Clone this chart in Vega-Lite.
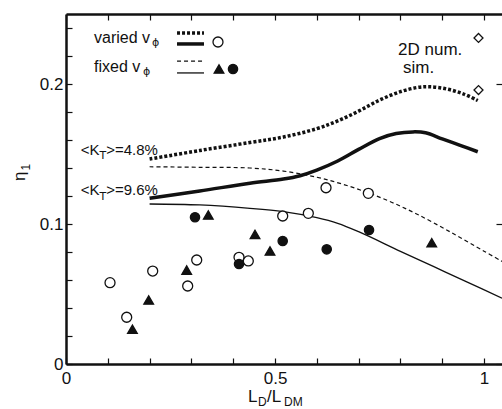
{
  "$schema": "https://vega.github.io/schema/vega-lite/v6.json",
  "width": 436,
  "height": 350,
  "autosize": {"type": "none"},
  "padding": {"left": 66, "top": 14, "right": 0, "bottom": 45},
  "background": "white",
  "config": {"view": {"stroke": null}, "font": "Liberation Sans"},
  "datasets": {
    "curves": [
      {"curve": "v48", "group": "varied 4.8%", "x": 0.2, "y": 0.1464},
      {"curve": "v48", "group": "varied 4.8%", "x": 0.32, "y": 0.1525},
      {"curve": "v48", "group": "varied 4.8%", "x": 0.44, "y": 0.1582},
      {"curve": "v48", "group": "varied 4.8%", "x": 0.52, "y": 0.1621},
      {"curve": "v48", "group": "varied 4.8%", "x": 0.6, "y": 0.1681},
      {"curve": "v48", "group": "varied 4.8%", "x": 0.65, "y": 0.1736},
      {"curve": "v48", "group": "varied 4.8%", "x": 0.7, "y": 0.1806},
      {"curve": "v48", "group": "varied 4.8%", "x": 0.75, "y": 0.1885},
      {"curve": "v48", "group": "varied 4.8%", "x": 0.8, "y": 0.1945},
      {"curve": "v48", "group": "varied 4.8%", "x": 0.84, "y": 0.1975},
      {"curve": "v48", "group": "varied 4.8%", "x": 0.87, "y": 0.198},
      {"curve": "v48", "group": "varied 4.8%", "x": 0.91, "y": 0.1965},
      {"curve": "v48", "group": "varied 4.8%", "x": 0.95, "y": 0.193},
      {"curve": "v48", "group": "varied 4.8%", "x": 0.985, "y": 0.1882},
      {"curve": "v96", "group": "varied 9.6%", "x": 0.2, "y": 0.1184},
      {"curve": "v96", "group": "varied 9.6%", "x": 0.32, "y": 0.1236},
      {"curve": "v96", "group": "varied 9.6%", "x": 0.44, "y": 0.1291},
      {"curve": "v96", "group": "varied 9.6%", "x": 0.52, "y": 0.1321},
      {"curve": "v96", "group": "varied 9.6%", "x": 0.56, "y": 0.1345},
      {"curve": "v96", "group": "varied 9.6%", "x": 0.6, "y": 0.1385},
      {"curve": "v96", "group": "varied 9.6%", "x": 0.65, "y": 0.145},
      {"curve": "v96", "group": "varied 9.6%", "x": 0.7, "y": 0.1533},
      {"curve": "v96", "group": "varied 9.6%", "x": 0.75, "y": 0.161},
      {"curve": "v96", "group": "varied 9.6%", "x": 0.79, "y": 0.1646},
      {"curve": "v96", "group": "varied 9.6%", "x": 0.83, "y": 0.1658},
      {"curve": "v96", "group": "varied 9.6%", "x": 0.86, "y": 0.1652},
      {"curve": "v96", "group": "varied 9.6%", "x": 0.9, "y": 0.1608},
      {"curve": "v96", "group": "varied 9.6%", "x": 0.943, "y": 0.1562},
      {"curve": "v96", "group": "varied 9.6%", "x": 0.985, "y": 0.1516},
      {"curve": "f48", "group": "fixed 4.8%", "x": 0.2, "y": 0.1409},
      {"curve": "f48", "group": "fixed 4.8%", "x": 0.32, "y": 0.1405},
      {"curve": "f48", "group": "fixed 4.8%", "x": 0.44, "y": 0.14},
      {"curve": "f48", "group": "fixed 4.8%", "x": 0.52, "y": 0.1378},
      {"curve": "f48", "group": "fixed 4.8%", "x": 0.6, "y": 0.1334},
      {"curve": "f48", "group": "fixed 4.8%", "x": 0.66, "y": 0.1286},
      {"curve": "f48", "group": "fixed 4.8%", "x": 0.72, "y": 0.1226},
      {"curve": "f48", "group": "fixed 4.8%", "x": 0.78, "y": 0.1154},
      {"curve": "f48", "group": "fixed 4.8%", "x": 0.84, "y": 0.107},
      {"curve": "f48", "group": "fixed 4.8%", "x": 0.92, "y": 0.0942},
      {"curve": "f48", "group": "fixed 4.8%", "x": 1.0, "y": 0.0806},
      {"curve": "f48", "group": "fixed 4.8%", "x": 1.043, "y": 0.0733},
      {"curve": "f96", "group": "fixed 9.6%", "x": 0.2, "y": 0.1143},
      {"curve": "f96", "group": "fixed 9.6%", "x": 0.32, "y": 0.1136},
      {"curve": "f96", "group": "fixed 9.6%", "x": 0.44, "y": 0.1112},
      {"curve": "f96", "group": "fixed 9.6%", "x": 0.52, "y": 0.1088},
      {"curve": "f96", "group": "fixed 9.6%", "x": 0.6, "y": 0.1045},
      {"curve": "f96", "group": "fixed 9.6%", "x": 0.65, "y": 0.1005},
      {"curve": "f96", "group": "fixed 9.6%", "x": 0.7, "y": 0.0945},
      {"curve": "f96", "group": "fixed 9.6%", "x": 0.8, "y": 0.0805},
      {"curve": "f96", "group": "fixed 9.6%", "x": 0.88, "y": 0.0695},
      {"curve": "f96", "group": "fixed 9.6%", "x": 0.96, "y": 0.0585},
      {"curve": "f96", "group": "fixed 9.6%", "x": 1.043, "y": 0.047},
      {"curve": "key1", "group": "varied 4.8%", "x": 0.2656, "y": 0.2364},
      {"curve": "key1", "group": "varied 4.8%", "x": 0.3301, "y": 0.2364},
      {"curve": "key2", "group": "varied 9.6%", "x": 0.2656, "y": 0.2286},
      {"curve": "key2", "group": "varied 9.6%", "x": 0.3301, "y": 0.2286},
      {"curve": "key3", "group": "fixed 4.8%", "x": 0.2656, "y": 0.2164},
      {"curve": "key3", "group": "fixed 4.8%", "x": 0.3301, "y": 0.2164},
      {"curve": "key4", "group": "fixed 9.6%", "x": 0.2656, "y": 0.2079},
      {"curve": "key4", "group": "fixed 9.6%", "x": 0.3301, "y": 0.2079}
    ],
    "markers": [
      {"kind": "varied", "x": 0.1053, "y": 0.0581},
      {"kind": "varied", "x": 0.1452, "y": 0.0334},
      {"kind": "varied", "x": 0.2074, "y": 0.0664},
      {"kind": "varied", "x": 0.2911, "y": 0.0557},
      {"kind": "varied", "x": 0.3127, "y": 0.0743},
      {"kind": "varied", "x": 0.4139, "y": 0.0762},
      {"kind": "varied", "x": 0.4361, "y": 0.0736},
      {"kind": "varied", "x": 0.5184, "y": 0.1057},
      {"kind": "varied", "x": 0.5797, "y": 0.1076},
      {"kind": "varied", "x": 0.622, "y": 0.1259},
      {"kind": "varied", "x": 0.7232, "y": 0.1219},
      {"kind": "fixed-tri", "x": 0.1589, "y": 0.0248},
      {"kind": "fixed-tri", "x": 0.1978, "y": 0.0457},
      {"kind": "fixed-tri", "x": 0.2887, "y": 0.0671},
      {"kind": "fixed-tri", "x": 0.3404, "y": 0.1064},
      {"kind": "fixed-tri", "x": 0.4522, "y": 0.0926},
      {"kind": "fixed-tri", "x": 0.488, "y": 0.0807},
      {"kind": "fixed-tri", "x": 0.8749, "y": 0.0866},
      {"kind": "fixed-dot", "x": 0.3086, "y": 0.1048},
      {"kind": "fixed-dot", "x": 0.4139, "y": 0.0714},
      {"kind": "fixed-dot", "x": 0.5184, "y": 0.0879},
      {"kind": "fixed-dot", "x": 0.6237, "y": 0.0819},
      {"kind": "fixed-dot", "x": 0.7249, "y": 0.0957},
      {"kind": "sim", "x": 0.9868, "y": 0.2329},
      {"kind": "sim", "x": 0.9868, "y": 0.1957},
      {"kind": "varied", "x": 0.3636, "y": 0.23},
      {"kind": "fixed-tri", "x": 0.366, "y": 0.2107},
      {"kind": "fixed-dot", "x": 0.3995, "y": 0.2107}
    ],
    "labels": [
      {"text": "varied v", "x": 0.067, "y": 0.2293, "role": "key"},
      {"text": "fixed v", "x": 0.067, "y": 0.2086, "role": "key"},
      {"text": "2D num.", "x": 0.7943, "y": 0.2207, "role": "sim"},
      {"text": "sim.", "x": 0.8062, "y": 0.2079, "role": "sim"},
      {"text": "<K", "x": 0.0352, "y": 0.1493, "role": "kt"},
      {"text": ">=4.8%", "x": 0.096, "y": 0.1493, "role": "kt"},
      {"text": "<K", "x": 0.0352, "y": 0.1204, "role": "kt"},
      {"text": ">=9.6%", "x": 0.096, "y": 0.1204, "role": "kt"},
      {"text": "ϕ", "x": 0.2057, "y": 0.2271, "role": "sub"},
      {"text": "ϕ", "x": 0.1842, "y": 0.2064, "role": "sub"},
      {"text": "T", "x": 0.0801, "y": 0.1464, "role": "sub"},
      {"text": "T", "x": 0.0801, "y": 0.1175, "role": "sub"},
      {"text": "L", "x": 0.4354, "y": -0.0271, "role": "title"},
      {"text": "/L", "x": 0.4809, "y": -0.0271, "role": "title"},
      {"text": "D", "x": 0.4593, "y": -0.03, "role": "titlesub"},
      {"text": "DM", "x": 0.5215, "y": -0.03, "role": "titlesub"},
      {"text": "η", "x": -0.0988, "y": 0.1307, "role": "ytitle"},
      {"text": "1", "x": -0.0868, "y": 0.1382, "role": "ytitlesub"}
    ]
  },
  "resolve": {"axis": {"x": "independent", "y": "independent"}},
  "layer": [
    {
      "data": {"name": "curves"},
      "transform": [{"filter": "datum.group === 'fixed 9.6%'"}],
      "mark": {"type": "line", "interpolate": "catmull-rom", "color": "#111", "strokeWidth": 1.3},
      "encoding": {
        "x": {"field": "x", "type": "quantitative", "scale": {"domain": [0, 1.043], "nice": false, "zero": false},
          "axis": {"orient": "bottom", "values": [0, 0.1, 0.2, 0.3, 0.4, 0.5, 0.6, 0.7, 0.8, 0.9, 1], "tickSize": -6, "tickWidth": 1.2, "tickColor": "#111", "domainColor": "#111", "domainWidth": 2.5, "labelExpr": "datum.value==0?'0':datum.value==0.5?'0.5':datum.value==1?'1':''", "labelFontSize": 17, "labelFont": "Liberation Sans", "labelColor": "#111", "labelPadding": 12, "title": null, "grid": false, "labelFlush": false, "labelOverlap": false}},
        "y": {"field": "y", "type": "quantitative", "scale": {"domain": [0, 0.25], "nice": false, "zero": false},
          "axis": {"orient": "left", "values": [0, 0.02, 0.04, 0.06, 0.08, 0.1, 0.12, 0.14, 0.16, 0.18, 0.2, 0.22, 0.24], "tickSize": -6, "tickWidth": 1.2, "tickColor": "#111", "domainColor": "#111", "domainWidth": 2.5, "labelExpr": "datum.value==0?'0':datum.value==0.1?'0.1':datum.value==0.2?'0.2':''", "labelFontSize": 17, "labelFont": "Liberation Sans", "labelColor": "#111", "labelPadding": 9, "title": null, "grid": false, "labelFlush": false, "labelOverlap": false}},
        "detail": {"field": "curve"}
      }
    },
    {
      "data": {"name": "curves"},
      "transform": [{"filter": "datum.group === 'fixed 4.8%'"}],
      "mark": {"type": "line", "interpolate": "catmull-rom", "color": "#111", "strokeWidth": 1.2, "strokeDash": [4, 3]},
      "encoding": {
        "x": {"field": "x", "type": "quantitative", "scale": {"domain": [0, 1.043], "nice": false, "zero": false}, "axis": null},
        "y": {"field": "y", "type": "quantitative", "scale": {"domain": [0, 0.25], "nice": false, "zero": false}, "axis": null},
        "detail": {"field": "curve"}
      }
    },
    {
      "data": {"name": "curves"},
      "transform": [{"filter": "datum.group === 'varied 9.6%'"}],
      "mark": {"type": "line", "interpolate": "catmull-rom", "color": "#111", "strokeWidth": 3.5},
      "encoding": {
        "x": {"field": "x", "type": "quantitative", "scale": {"domain": [0, 1.043], "nice": false, "zero": false}, "axis": null},
        "y": {"field": "y", "type": "quantitative", "scale": {"domain": [0, 0.25], "nice": false, "zero": false}, "axis": null},
        "detail": {"field": "curve"}
      }
    },
    {
      "data": {"name": "curves"},
      "transform": [{"filter": "datum.group === 'varied 4.8%'"}],
      "mark": {"type": "line", "interpolate": "catmull-rom", "color": "#111", "strokeWidth": 3.5, "strokeDash": [3, 2], "strokeCap": "butt"},
      "encoding": {
        "x": {"field": "x", "type": "quantitative", "scale": {"domain": [0, 1.043], "nice": false, "zero": false}, "axis": null},
        "y": {"field": "y", "type": "quantitative", "scale": {"domain": [0, 0.25], "nice": false, "zero": false}, "axis": null},
        "detail": {"field": "curve"}
      }
    },
    {
      "data": {"name": "markers"},
      "mark": {"type": "point", "filled": true, "stroke": "#111", "strokeWidth": 1.3, "opacity": 1},
      "encoding": {
        "x": {"field": "x", "type": "quantitative", "scale": {"domain": [0, 1.043], "nice": false, "zero": false},
          "axis": {"orient": "top", "values": [0, 0.1, 0.2, 0.3, 0.4, 0.5, 0.6, 0.7, 0.8, 0.9, 1], "tickSize": -6, "tickWidth": 1.2, "tickColor": "#111", "domainColor": "#111", "domainWidth": 2.5, "labels": false, "title": null, "grid": false}},
        "y": {"field": "y", "type": "quantitative", "scale": {"domain": [0, 0.25], "nice": false, "zero": false},
          "axis": {"orient": "right", "values": [0, 0.1, 0.2], "tickSize": -6, "tickWidth": 1.2, "tickColor": "#111", "domain": false, "labels": false, "title": null, "grid": false}},
        "shape": {"field": "kind", "type": "nominal", "scale": {"domain": ["varied", "fixed-tri", "fixed-dot", "sim"], "range": ["circle", "triangle-up", "circle", "diamond"]}, "legend": null},
        "fill": {"field": "kind", "type": "nominal", "scale": {"domain": ["varied", "fixed-tri", "fixed-dot", "sim"], "range": ["white", "#111", "#111", "white"]}, "legend": null},
        "size": {"field": "kind", "type": "nominal", "scale": {"domain": ["varied", "fixed-tri", "fixed-dot", "sim"], "range": [100, 80, 25, 75]}, "legend": null}
      }
    },
    {
      "data": {"name": "labels"},
      "transform": [{"filter": "datum.role === 'key'"}],
      "mark": {"type": "text", "align": "left", "baseline": "alphabetic", "fontSize": 16, "font": "Liberation Sans", "color": "#111"},
      "encoding": {
        "x": {"field": "x", "type": "quantitative", "scale": {"domain": [0, 1.043], "nice": false, "zero": false}, "axis": null},
        "y": {"field": "y", "type": "quantitative", "scale": {"domain": [0, 0.25], "nice": false, "zero": false}, "axis": null},
        "text": {"field": "text"}
      }
    },
    {
      "data": {"name": "labels"},
      "transform": [{"filter": "datum.role === 'sim'"}],
      "mark": {"type": "text", "align": "left", "baseline": "alphabetic", "fontSize": 17, "font": "Liberation Sans", "color": "#111"},
      "encoding": {
        "x": {"field": "x", "type": "quantitative", "scale": {"domain": [0, 1.043], "nice": false, "zero": false}, "axis": null},
        "y": {"field": "y", "type": "quantitative", "scale": {"domain": [0, 0.25], "nice": false, "zero": false}, "axis": null},
        "text": {"field": "text"}
      }
    },
    {
      "data": {"name": "labels"},
      "transform": [{"filter": "datum.role === 'kt'"}],
      "mark": {"type": "text", "align": "left", "baseline": "alphabetic", "fontSize": 15, "font": "Liberation Sans", "color": "#111"},
      "encoding": {
        "x": {"field": "x", "type": "quantitative", "scale": {"domain": [0, 1.043], "nice": false, "zero": false}, "axis": null},
        "y": {"field": "y", "type": "quantitative", "scale": {"domain": [0, 0.25], "nice": false, "zero": false}, "axis": null},
        "text": {"field": "text"}
      }
    },
    {
      "data": {"name": "labels"},
      "transform": [{"filter": "datum.role === 'sub'"}],
      "mark": {"type": "text", "align": "left", "baseline": "alphabetic", "fontSize": 11, "font": "DejaVu Sans", "color": "#111"},
      "encoding": {
        "x": {"field": "x", "type": "quantitative", "scale": {"domain": [0, 1.043], "nice": false, "zero": false}, "axis": null},
        "y": {"field": "y", "type": "quantitative", "scale": {"domain": [0, 0.25], "nice": false, "zero": false}, "axis": null},
        "text": {"field": "text"}
      }
    },
    {
      "data": {"name": "labels"},
      "transform": [{"filter": "datum.role === 'title'"}],
      "mark": {"type": "text", "align": "left", "baseline": "alphabetic", "fontSize": 17, "font": "Liberation Sans", "color": "#111"},
      "encoding": {
        "x": {"field": "x", "type": "quantitative", "scale": {"domain": [0, 1.043], "nice": false, "zero": false}, "axis": null},
        "y": {"field": "y", "type": "quantitative", "scale": {"domain": [0, 0.25], "nice": false, "zero": false}, "axis": null},
        "text": {"field": "text"}
      }
    },
    {
      "data": {"name": "labels"},
      "transform": [{"filter": "datum.role === 'titlesub'"}],
      "mark": {"type": "text", "align": "left", "baseline": "alphabetic", "fontSize": 12, "font": "Liberation Sans", "color": "#111"},
      "encoding": {
        "x": {"field": "x", "type": "quantitative", "scale": {"domain": [0, 1.043], "nice": false, "zero": false}, "axis": null},
        "y": {"field": "y", "type": "quantitative", "scale": {"domain": [0, 0.25], "nice": false, "zero": false}, "axis": null},
        "text": {"field": "text"}
      }
    },
    {
      "data": {"name": "labels"},
      "transform": [{"filter": "datum.role === 'ytitle'"}],
      "mark": {"type": "text", "align": "left", "baseline": "alphabetic", "fontSize": 17, "angle": 270, "font": "Liberation Sans", "color": "#111"},
      "encoding": {
        "x": {"field": "x", "type": "quantitative", "scale": {"domain": [0, 1.043], "nice": false, "zero": false}, "axis": null},
        "y": {"field": "y", "type": "quantitative", "scale": {"domain": [0, 0.25], "nice": false, "zero": false}, "axis": null},
        "text": {"field": "text"}
      }
    },
    {
      "data": {"name": "labels"},
      "transform": [{"filter": "datum.role === 'ytitlesub'"}],
      "mark": {"type": "text", "align": "left", "baseline": "alphabetic", "fontSize": 12, "angle": 270, "font": "Liberation Sans", "color": "#111"},
      "encoding": {
        "x": {"field": "x", "type": "quantitative", "scale": {"domain": [0, 1.043], "nice": false, "zero": false}, "axis": null},
        "y": {"field": "y", "type": "quantitative", "scale": {"domain": [0, 0.25], "nice": false, "zero": false}, "axis": null},
        "text": {"field": "text"}
      }
    }
  ]
}
